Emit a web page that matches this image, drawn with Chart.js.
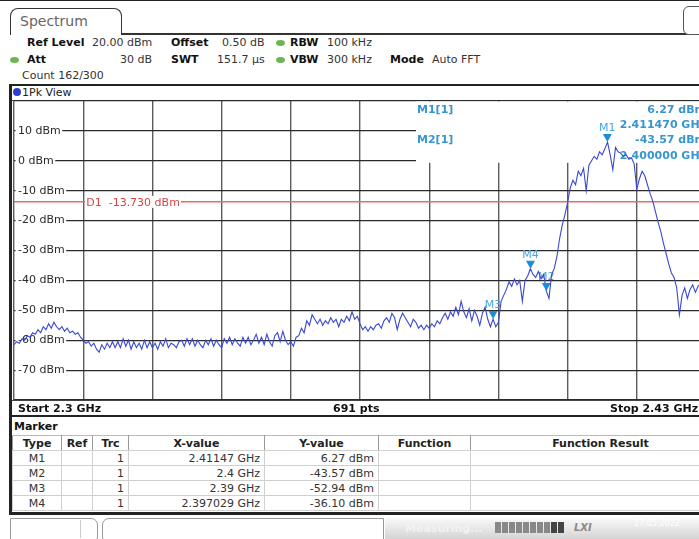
<!DOCTYPE html>
<html>
<head>
<meta charset="utf-8">
<script src="https://cdn.jsdelivr.net/npm/chart.js@4.4.0/dist/chart.umd.min.js"></script>
<style>
  body { margin:0; width:699px; height:539px; overflow:hidden; background:#fff; position:relative;
         font-family:"DejaVu Sans", Verdana, sans-serif; font-size:11px; color:#333; }
  .t { position:absolute; white-space:nowrap; line-height:13px; }
  .b { font-weight:bold; color:#111; }
  .dot { position:absolute; width:9px; height:6px; border-radius:50%; background:#6bb552; }
  .line { position:absolute; background:#222; }
  #tab { position:absolute; left:10px; top:8px; width:110px; height:26px; border:1.5px solid #333; border-bottom:none;
         border-radius:8px 8px 0 0; background:#fff; }
  #tab span { position:absolute; left:9px; top:4px; font-size:14px; color:#666; }
  #icon { position:absolute; left:683px; top:6px; width:24px; height:27px; border:1.5px solid #555; border-radius:6px; background:#fff; }
  #chart { position:absolute; left:12px; top:100px; }
  #mk { position:absolute; left:12px; top:435px; width:718px; border-collapse:collapse; table-layout:fixed; font-size:11px; }
  #mk th, #mk td { height:14px; padding:0 4px; line-height:13px; border:1px solid #d0d0d0; white-space:nowrap; overflow:hidden; }
  #mk th { color:#222; border-left:1px solid #999; border-right:1px solid #999; border-top:1px solid #bbb; }
  #mk td { color:#333; text-align:right; }
  #mk td.c { text-align:center; }
</style>
</head>
<body>
<script>
// sweep settings
const startGHz = 2.3;
const stopGHz = 2.43;
const stepGHz = 0.0005;
const refLevel = 20;
const bottomLevel = -80;

// trace 1 (1Pk View), every 0.5 MHz
const traceDbm = [
  -61.5, -60.5, -61, -59.5, -60, -58.5, -59, -57.5, -58, -56.5,
  -57.5, -55.5, -56.5, -54.5, -56, -54, -55.5, -56.5, -55.5, -57,
  -56, -57.5, -57, -58, -57.5, -59, -60, -61, -60.5, -62,
  -61, -63, -64, -61.5, -63, -61, -62.5, -60.5, -62.5, -60.5,
  -62.5, -59.5, -62, -60, -63, -60.5, -62.5, -61, -63, -60,
  -62.5, -60.5, -62.5, -61, -63, -60.5, -62, -59.5, -62.5, -61,
  -61.5, -62.5, -60.5, -60, -62, -59.5, -61.5, -59.5, -62, -60,
  -61.5, -62.5, -60, -61.5, -59.5, -62, -60, -61.5, -62.5, -59.5,
  -61, -59, -61.5, -59.5, -61, -62, -59, -61, -59, -61.5,
  -60, -58, -61, -59, -61.5, -58, -60.5, -62, -58.5, -57.5,
  -60.5, -57, -60, -61.5, -60.5, -62, -59, -58.5, -56, -57.5,
  -53.5, -55, -51.5, -53, -54.5, -53, -55, -53.5, -54.5, -52.5,
  -54, -53, -55.5, -53, -54, -52, -53.5, -50.5, -53, -52,
  -54.5, -56.5, -55.5, -57, -55.5, -56.5, -55, -54.5, -56, -53.5,
  -52.5, -54, -51, -52.5, -56.5, -53, -51, -52.5, -54, -55.5,
  -53, -54, -56, -55, -56.5, -55, -56, -54.5, -55.5, -53.5,
  -54.5, -52.5, -51, -53, -50.5, -52, -49, -51.5, -47, -50.5,
  -52.5, -49.5, -53.5, -50, -52, -55, -51, -49, -53, -55.5,
  -52.94, -55.5, -54, -47, -45, -43, -40.5, -42, -39.5, -41.5,
  -40, -47, -40, -38.5, -36.1, -38, -39, -37, -39.5, -38,
  -43.57, -46, -38, -36, -32, -26, -21.5, -18, -14, -9,
  -6.5, -8, -3.5, -5, -2.5, -10, -1.5, 0, 1.5, 0.5,
  3, 2, 4, 6.27, 2, -3, 4.5, 3, 2.5, 1.5,
  2, 0.5, 1, -1, -9.5, -6, -3.5, -5, -8, -11,
  -13.5, -17, -20.5, -23.6, -27.5, -31, -34.5, -37.5, -39, -42.5,
  -51.5, -45, -42.5, -46, -43, -41.5, -44, -42, -41, -43,
  -42
];

const xGridGHz = [2.3, 2.313, 2.326, 2.339, 2.352, 2.365, 2.378, 2.391, 2.404, 2.417, 2.43];
const yGridDbm = [20, 10, 0, -10, -20, -30, -40, -50, -60, -70, -80];
const yLabelDbm = [10, 0, -10, -20, -30, -40, -50, -60, -70];

const markerNames = ['M1', 'M2', 'M3', 'M4'];
const markerGHz = [2.41147, 2.4, 2.39, 2.397029];
const markerDbm = [6.27, -43.57, -52.94, -36.10];
const markerXText = ['2.41147 GHz', '2.4 GHz', '2.39 GHz', '2.397029 GHz'];

const displayLineDbm = -13.73;
</script>

<div class="line" style="left:0;top:0;width:699px;height:1px"></div>
<div class="line" style="left:118px;top:33px;width:570px;height:1.5px;background:#333"></div>
<div id="tab"><span>Spectrum</span></div>
<div id="icon"></div>

<span class="t b" style="left:27px;top:36px">Ref Level</span>
<span class="t" style="left:92px;top:36px">20.00 dBm</span>
<span class="t b" style="left:171px;top:36px">Offset</span>
<span class="t" style="left:222px;top:36px">0.50 dB</span>
<div class="dot" style="left:276px;top:40px"></div>
<span class="t b" style="left:290px;top:36px">RBW</span>
<span class="t" style="left:327px;top:36px">100 kHz</span>

<div class="dot" style="left:10px;top:57px"></div>
<span class="t b" style="left:27px;top:53px">Att</span>
<span class="t" style="left:120px;top:53px">30 dB</span>
<span class="t b" style="left:171px;top:53px">SWT</span>
<span class="t" style="left:217px;top:53px">151.7 µs</span>
<div class="dot" style="left:276px;top:57px"></div>
<span class="t b" style="left:290px;top:53px">VBW</span>
<span class="t" style="left:327px;top:53px">300 kHz</span>
<span class="t b" style="left:390px;top:53px">Mode</span>
<span class="t" style="left:432px;top:53px">Auto FFT</span>

<span class="t" style="left:22px;top:69px">Count 162/300</span>

<!-- trace window frame -->
<div class="line" style="left:9px;top:84px;width:690px;height:2px"></div>
<div class="line" style="left:9px;top:84px;width:3px;height:431px"></div>
<div style="position:absolute;left:13px;top:88px;width:8px;height:8px;border-radius:50%;background:#2a3fd0"></div>
<span class="t" style="left:22px;top:86px;color:#222">1Pk View</span>
<div class="line" style="left:12px;top:100px;width:687px;height:1px;background:#444"></div>

<canvas id="chart" width="700" height="302"></canvas>

<div class="line" style="left:12px;top:400px;width:687px;height:1px;background:#444"></div>
<span class="t b" style="left:18px;top:402px">Start 2.3 GHz</span>
<span class="t b" style="left:333px;top:402px">691 pts</span>
<span class="t b" style="left:610px;top:402px">Stop 2.43 GHz</span>
<div class="line" style="left:9px;top:415px;width:690px;height:2px"></div>

<span class="t b" style="left:14px;top:420px">Marker</span>
<table id="mk">
  <colgroup>
    <col style="width:49px"><col style="width:31px"><col style="width:36px"><col style="width:136px">
    <col style="width:114px"><col style="width:92px"><col style="width:260px">
  </colgroup>
  <thead><tr><th>Type</th><th>Ref</th><th>Trc</th><th>X-value</th><th>Y-value</th><th>Function</th><th>Function Result</th></tr></thead>
  <tbody id="mkBody"></tbody>
</table>
<div class="line" style="left:9px;top:512px;width:690px;height:3px"></div>

<!-- status bar -->
<div style="position:absolute;left:10px;top:518px;width:86px;height:24px;border:1px solid #999;border-radius:0 7px 7px 0;background:#fff"></div>
<div style="position:absolute;left:80px;top:520px;width:1px;height:18px;background:#ccc"></div>
<div style="position:absolute;left:102px;top:518px;width:280px;height:24px;border:1px solid #999;border-radius:7px 0 0 7px;background:#fff"></div>
<div style="position:absolute;left:385px;top:517px;width:314px;height:22px;background:linear-gradient(#fbfbfb,#d4d4d4)"></div>
<span class="t" style="left:405px;top:522px;color:#f2f2f2;font-weight:bold">Measuring...</span>
<div id="prog" style="position:absolute;left:495px;top:522px;height:11px"></div>
<span class="t" style="left:574px;top:521px;color:#8a8a8a;font-style:italic;font-weight:bold;font-size:10px">LXI</span>
<span class="t" style="left:634px;top:517px;color:#fff;font-size:8px">17.05.2022</span>

<script>
// marker table rows
const body = document.getElementById('mkBody');
body.innerHTML = markerNames.map((m, i) => `
  <tr><td class="c">${m}</td><td></td><td>1</td><td>${markerXText[i]}</td>
  <td>${markerDbm[i].toFixed(2)} dBm</td><td></td><td></td></tr>`).join('');

// progress blocks
const prog = document.getElementById('prog');
for (let i = 0; i < 10; i++) {
  const d = document.createElement('div');
  d.style.cssText = `position:absolute;left:${i * 7}px;top:0;width:6px;height:11px;background:${i >= 8 ? '#444' : '#888'}`;
  prog.appendChild(d);
}

const FONT = '11px "DejaVu Sans"';
const MARK_COLOR = '#1b8fd6';

const overlay = {
  id: 'overlay',
  beforeDatasetsDraw(chart) {
    const { ctx, chartArea: a, scales: { x, y } } = chart;
    ctx.save();
    ctx.font = FONT;
    ctx.textBaseline = 'middle';

    // level labels inside the diagram
    yLabelDbm.forEach(v => {
      const py = y.getPixelForValue(v);
      const t = v + ' dBm';
      const w = ctx.measureText(t).width;
      ctx.fillStyle = '#fff';
      ctx.fillRect(a.left + 1.5, py - 6, w + 4, 12);
      ctx.fillStyle = '#2a2a2a';
      ctx.fillText(t, a.left + 4, py);
    });

    // display line D1
    const dy = y.getPixelForValue(displayLineDbm);
    ctx.strokeStyle = '#e07070';
    ctx.lineWidth = 1.5;
    ctx.beginPath();
    ctx.moveTo(a.left, dy);
    ctx.lineTo(a.right, dy);
    ctx.stroke();
    const dTxt = 'D1  ' + displayLineDbm.toFixed(3) + ' dBm';
    const dx = x.getPixelForValue(xGridGHz[1]) + 2;
    ctx.fillStyle = '#fff';
    ctx.fillRect(dx, dy - 6, ctx.measureText(dTxt).width + 2, 12);
    ctx.fillStyle = '#d64545';
    ctx.fillText(dTxt, dx + 1, dy + 1);

    // marker info field
    const bx = a.left + 402;
    const bBottom = y.getPixelForValue(0) + 1.5;
    ctx.fillStyle = '#fff';
    ctx.fillRect(bx, a.top + 0.5, a.right - bx + 2, bBottom - a.top);
    ctx.font = 'bold ' + FONT;
    ctx.fillStyle = '#3796cf';
    const lh = 15.3;
    [0, 1].forEach(i => {
      const ty = a.top + 9 + i * 2 * lh;
      ctx.textAlign = 'left';
      ctx.fillText(markerNames[i] + '[1]', bx + 1, ty);
      ctx.textAlign = 'right';
      ctx.fillText(markerDbm[i].toFixed(2) + ' dBm', a.right, ty);
      ctx.fillText(markerGHz[i].toFixed(6) + ' GHz', a.right, ty + lh);
    });

    // marker labels
    ctx.font = FONT;
    ctx.textAlign = 'center';
    ctx.fillStyle = '#4aa6da';
    markerGHz.forEach((f, i) => {
      ctx.fillText(markerNames[i], x.getPixelForValue(f), y.getPixelForValue(markerDbm[i]) - 14);
    });
    ctx.restore();
  },
  afterDatasetsDraw(chart) {
    const { ctx, scales: { x, y } } = chart;
    ctx.save();
    ctx.fillStyle = MARK_COLOR;
    markerGHz.forEach((f, i) => {
      const px = x.getPixelForValue(f);
      const py = y.getPixelForValue(markerDbm[i]);
      ctx.beginPath();
      ctx.moveTo(px, py);
      ctx.lineTo(px - 4.5, py - 8);
      ctx.lineTo(px + 4.5, py - 8);
      ctx.closePath();
      ctx.fill();
    });
    ctx.restore();
  }
};

const points = traceDbm.map((v, i) => ({ x: startGHz + i * stepGHz, y: v }));

new Chart(document.getElementById('chart'), {
  type: 'line',
  data: {
    datasets: [{
      label: 'Trc 1',
      data: points,
      borderColor: '#3a48d0',
      borderWidth: 1.1,
      pointRadius: 0,
      tension: 0
    }]
  },
  options: {
    responsive: false,
    devicePixelRatio: 1,
    animation: false,
    layout: { padding: { left: 2, top: 1, right: 6, bottom: 2 } },
    plugins: { legend: { display: false }, tooltip: { enabled: false } },
    scales: {
      x: {
        type: 'linear',
        min: startGHz,
        max: stopGHz,
        afterBuildTicks: axis => { axis.ticks = xGridGHz.map(v => ({ value: v })); },
        ticks: { display: false },
        border: { display: false },
        grid: { drawTicks: false, color: '#5c5c5c', lineWidth: 1.4 }
      },
      y: {
        min: bottomLevel,
        max: refLevel,
        afterBuildTicks: axis => { axis.ticks = yGridDbm.map(v => ({ value: v })); },
        ticks: { display: false },
        border: { display: false },
        grid: { drawTicks: false, color: '#2a2a2a', lineWidth: 1.2 }
      }
    }
  },
  plugins: [overlay]
});
</script>
</body>
</html>
